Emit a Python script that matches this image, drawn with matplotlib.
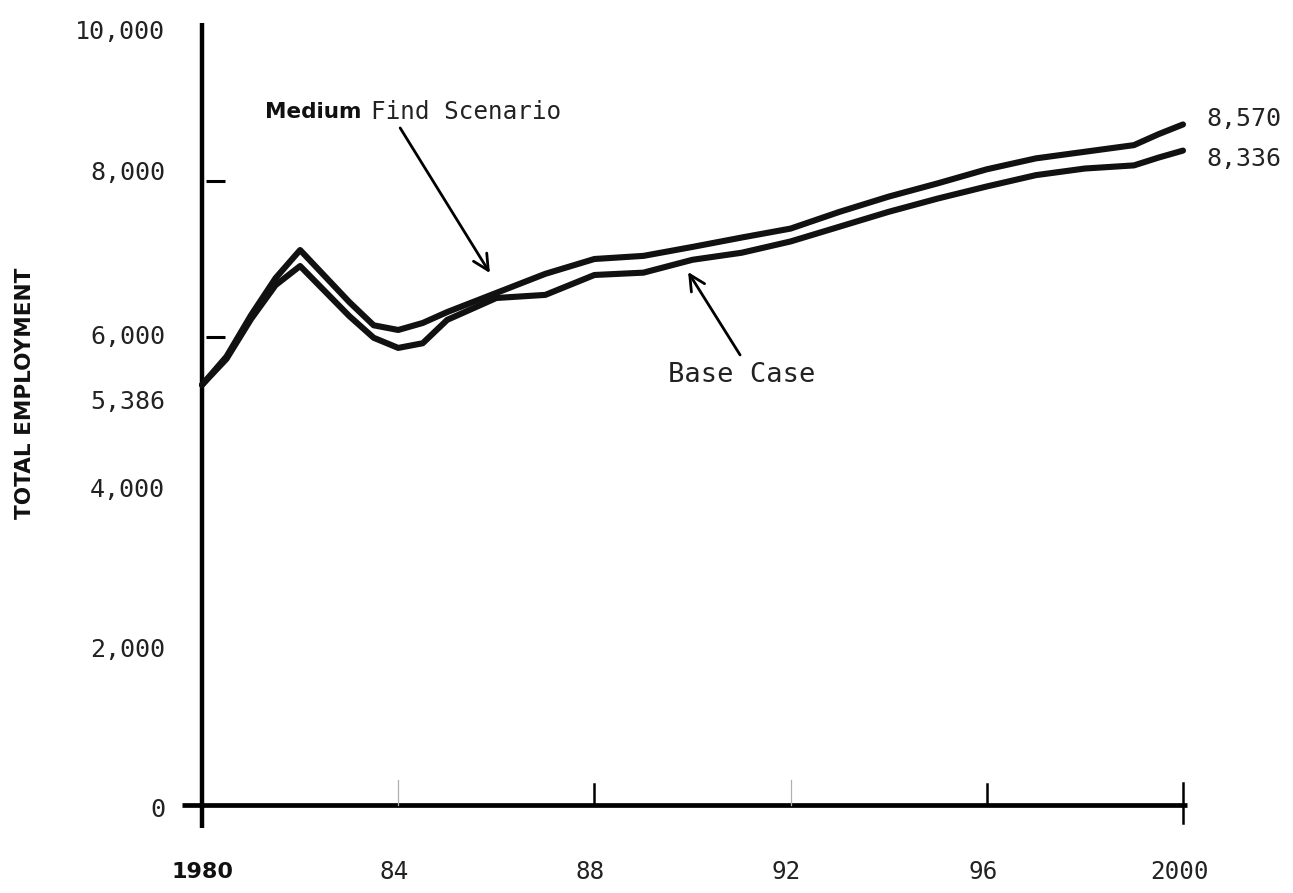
import matplotlib
matplotlib.use("Agg")
import matplotlib.pyplot as plt

# -----------------------
# Data
# -----------------------
years = [1980, 1980.5, 1981, 1981.5, 1982, 1983, 1983.5, 1984, 1984.5, 1985,
         1986, 1987, 1988, 1989, 1990, 1991, 1992, 1993, 1994, 1995,
         1996, 1997, 1998, 1999, 1999.5, 2000]
medium_find = [5386, 5750, 6280, 6755, 7115, 6450, 6150, 6090, 6180, 6320,
               6565, 6810, 7000, 7040, 7155, 7275, 7390, 7605, 7800, 7970,
               8150, 8290, 8375, 8460, 8600, 8725]
base_case = [5386, 5720, 6230, 6665, 6910, 6270, 5990, 5860, 5920, 6220,
             6500, 6540, 6795, 6825, 6990, 7080, 7225, 7415, 7605, 7775,
             7930, 8075, 8160, 8200, 8300, 8390]

end_labels = ["8,570", "8,336"]

ytick_vals = [10000, 8000, 6000, 5386, 4000, 2000, 0]
ytick_text = ["10,000", "8,000", "6,000", "5,386", "4,000", "2,000", "0"]
ytick_nudge_px = [7, -8, 0, 17, -3, 1, 5]   # label nudges (typed chart drift)
ytick_marks = [8000, 6000]

xtick_vals = [1980, 1984, 1988, 1992, 1996, 2000]
xtick_text = ["1980", "84", "88", "92", "96", "2000"]
faint_ticks = [1984, 1992]
hand_ticks = [1988, 1996]

MONO = ["DejaVu Sans Mono"]
SANS = ["DejaVu Sans"]
INK = "#111111"

W, H = 1293, 893
fig = plt.figure(figsize=(W / 100, H / 100), dpi=100)
# axes box: 1980 -> x=202px, 2000 -> x=1183px, 0 -> y=805px, 10000 -> y=25px
ax = fig.add_axes([202 / W, (H - 805) / H, (1183 - 202) / W, (805 - 25) / H])
ax.set_xlim(1980, 2000)
ax.set_ylim(0, 10000)
ax.axis("off")

px_x = 20 / (1183 - 202)       # years per pixel
px_y = 10000 / (805 - 25)      # units per pixel

# axes lines
ax.plot([1980, 1980], [-23 * px_y, 10000 + 2 * px_y], color="k", lw=3.2,
        solid_capstyle="butt", clip_on=False)
ax.plot([1980 - 20 * px_x, 2000 + 4 * px_x], [0, 0], color="k", lw=3.4,
        solid_capstyle="butt", clip_on=False)

# y tick marks
for v in ytick_marks:
    ax.plot([1980 + 4 * px_x, 1980 + 23 * px_x], [v, v], color="k", lw=2.2,
            solid_capstyle="butt", clip_on=False)

# x tick marks
for v in faint_ticks:
    ax.plot([v, v], [0, 25 * px_y], color="#b0b0b0", lw=0.9, clip_on=False)
for v in hand_ticks:
    ax.plot([v, v], [0, 21 * px_y], color="k", lw=1.8, clip_on=False)
ax.plot([2000, 2000], [-18 * px_y, 22 * px_y], color="k", lw=1.8, clip_on=False)

# series
ax.plot(years, medium_find, color=INK, lw=4.4, solid_joinstyle="round",
        solid_capstyle="round", clip_on=False)
ax.plot(years, base_case, color=INK, lw=4.4, solid_joinstyle="round",
        solid_capstyle="round", clip_on=False)

# y tick labels
for v, t, n in zip(ytick_vals, ytick_text, ytick_nudge_px):
    ax.annotate(t, xy=(1980, v), xytext=(-37 * 0.72, -n * 0.72),
                textcoords="offset points", ha="right", va="center",
                family=MONO, fontsize=18, color="#222222")

# x tick labels
for v, t in zip(xtick_vals, xtick_text):
    if t == "1980":
        ax.text(v, -860, t, ha="center", va="center", family=SANS,
                fontweight="bold", fontsize=16, color="#111111")
    else:
        ax.text(v - 4 * px_x, -860, t, ha="center", va="center",
                family=MONO, fontsize=17.5, color="#222222")

# end labels
ax.annotate(end_labels[0], xy=(2000, medium_find[-1]), xytext=(17, 4),
            textcoords="offset points", ha="left", va="center",
            family=MONO, fontsize=18, color="#222222")
ax.annotate(end_labels[1], xy=(2000, base_case[-1]), xytext=(17, -6),
            textcoords="offset points", ha="left", va="center",
            family=MONO, fontsize=18, color="#222222")

# y axis title
fig.text(25 / W, 1 - 393 / H, "TOTAL EMPLOYMENT", rotation=90, ha="center",
         va="center", family=SANS, fontweight="bold", fontsize=15.5,
         color="#111111")

# annotations
t1 = ax.text(1981.28, 8885, "Medium", ha="left", va="center", family=SANS,
             fontweight="bold", fontsize=15.5, color="#111111")
ax.annotate("Find Scenario", xy=(1, 0.5), xycoords=t1, xytext=(7, 0),
            textcoords="offset points", ha="left", va="center",
            family=MONO, fontsize=17.5, color="#222222")
ax.annotate("", xy=(1985.87, 6820), xytext=(1984.04, 8680),
            arrowprops=dict(arrowstyle="->", lw=2.0, color="k",
                            mutation_scale=28, shrinkA=0, shrinkB=0))

ax.text(1989.5, 5510, "Base Case", ha="left", va="center", family=MONO,
        fontsize=19.5, color="#222222")
ax.annotate("", xy=(1989.91, 6833), xytext=(1990.97, 5770),
            arrowprops=dict(arrowstyle="->", lw=2.0, color="k",
                            mutation_scale=28, shrinkA=0, shrinkB=0))

fig.savefig("out.png", dpi=100, facecolor="white")
